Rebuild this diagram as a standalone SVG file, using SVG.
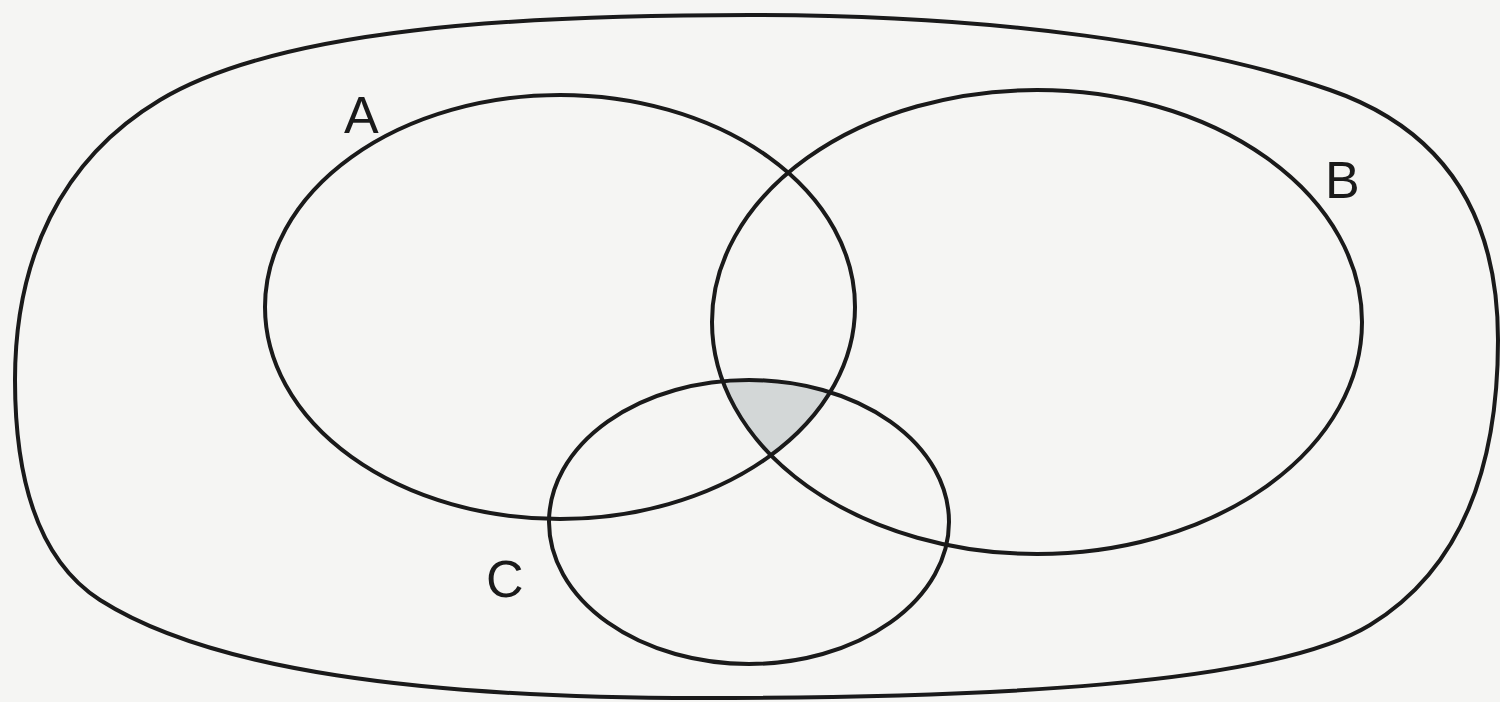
<svg xmlns="http://www.w3.org/2000/svg" width="1500" height="702" viewBox="0 0 1500 702">
<style>
.ln{fill:none;stroke:#1a1a1a;stroke-width:4}
.lbl{font-family:"Liberation Sans",Arial,sans-serif;font-size:52px;fill:#1a1a1a}
</style>
<defs>
<clipPath id="clipA"><ellipse cx="560" cy="307" rx="295" ry="212"/></clipPath>
<clipPath id="clipB"><ellipse cx="1037" cy="322" rx="325" ry="232"/></clipPath>
</defs>
<rect width="1500" height="702" fill="#f5f5f3"/>
<g id="shade" clip-path="url(#clipA)"><g clip-path="url(#clipB)"><ellipse cx="749" cy="522" rx="200" ry="142" fill="#d3d7d7"/></g></g>
<g id="universe"><path class="ln" d="M 750 15 C 1000 15, 1200 45, 1330 90 C 1440 128, 1498 210, 1498 340 C 1498 470, 1460 570, 1370 625 C 1270 686, 980 698, 700 698 C 420 698, 210 670, 100 600 C 30 555, 15 460, 15 380 C 15 260, 60 160, 160 100 C 280 28, 520 15, 750 15 Z"/></g>
<g id="setA"><ellipse class="ln" cx="560" cy="307" rx="295" ry="212"/><text class="lbl" x="344" y="133">A</text></g>
<g id="setB"><ellipse class="ln" cx="1037" cy="322" rx="325" ry="232"/><text class="lbl" x="1325" y="198">B</text></g>
<g id="setC"><ellipse class="ln" cx="749" cy="522" rx="200" ry="142"/><text class="lbl" x="486" y="597">C</text></g>
</svg>
